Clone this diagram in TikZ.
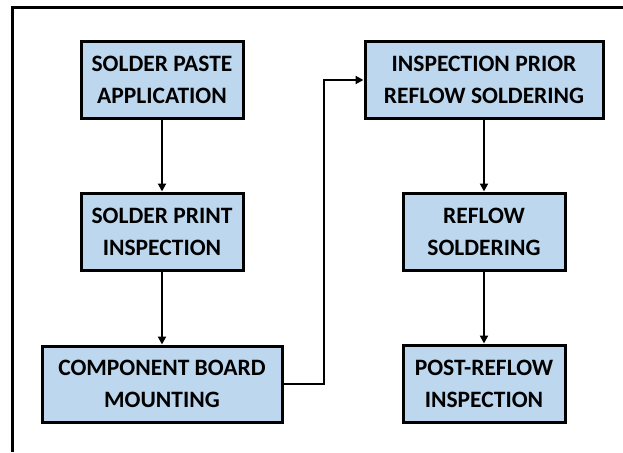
\documentclass[tikz,border=0pt]{standalone}
\usepackage{fontspec}
\setmainfont{Carlito}
\usetikzlibrary{arrows.meta}
\definecolor{boxblue}{HTML}{BDD7EE}
\begin{document}
\begin{tikzpicture}[x=1pt,y=-1pt,
  stepbox/.style={draw=black,line width=3pt,fill=boxblue,inner sep=0pt,
    align=center,font=\fontsize{23.5}{32}\selectfont\bfseries},
  flow/.style={line width=2.4pt,-{Triangle[length=8pt,width=8pt]}}]
\useasboundingbox (0,0) rectangle (623,452);
\draw[line width=3pt] (12,452) -- (12,8) -- (623,8);
\node[stepbox,minimum width=162pt,minimum height=76pt] (a) at (162,80) {SOLDER PASTE\\APPLICATION};
\node[stepbox,minimum width=162pt,minimum height=77pt] (b) at (162,231.5) {SOLDER PRINT\\INSPECTION};
\node[stepbox,minimum width=240pt,minimum height=76pt] (c) at (162,384) {COMPONENT BOARD\\MOUNTING};
\node[stepbox,minimum width=238pt,minimum height=76pt] (d) at (484,80) {INSPECTION PRIOR\\REFLOW SOLDERING};
\node[stepbox,minimum width=162pt,minimum height=77pt] (e) at (484,231.5) {REFLOW\\SOLDERING};
\node[stepbox,minimum width=162pt,minimum height=77pt] (f) at (484,383.5) {POST-REFLOW\\INSPECTION};
\draw[flow] (a) -- (b);
\draw[flow] (b) -- (c);
\draw[flow] (d) -- (e);
\draw[flow] (e) -- (f);
\coordinate (k1) at (324,384);
\coordinate (k2) at (324,80);
\draw[flow] (c.east) -- (k1) -- (k2) -- (d.west);
\end{tikzpicture}
\end{document}
